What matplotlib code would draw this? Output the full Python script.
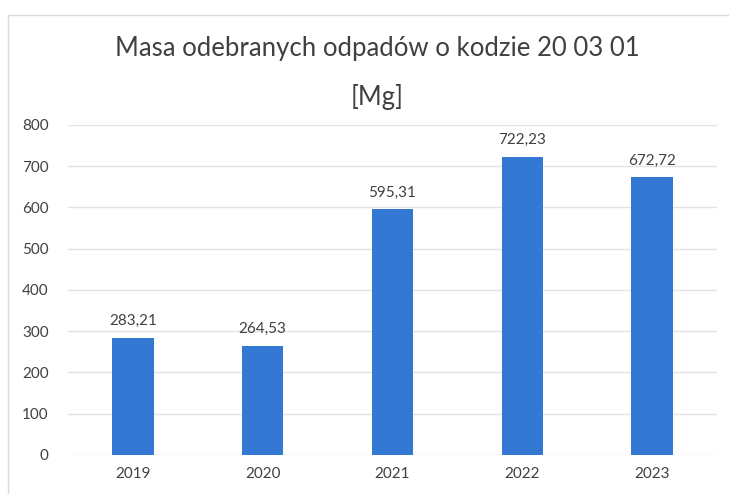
import matplotlib.pyplot as plt
from matplotlib.patches import Rectangle

years = ['2019', '2020', '2021', '2022', '2023']
values = [283.21, 264.53, 595.31, 722.23, 672.72]
labels = ['283,21', '264,53', '595,31', '722,23', '672,72']

plt.rcParams['font.family'] = ['Lato', 'DejaVu Sans']

fig = plt.figure(figsize=(7.29, 4.94), dpi=100)
ax = fig.add_axes([0.0933, 0.079, 0.8902, 0.668])

# ramka wykresu jak w Excelu
fig.patches.append(Rectangle((0.011, -0.01), 1.0, 0.98, transform=fig.transFigure,
                             fill=False, edgecolor='#d9d9d9', linewidth=1))

x = range(len(years))
ax.bar(x, values, width=0.32, color='#3378d3', zorder=3)
for xi, v, lab in zip(x, values, labels):
    ax.text(xi, v + 24, lab, ha='center', va='bottom', fontsize=11, color='#404040')

ax.set_xlim(-0.5, 4.5)
ax.set_ylim(0, 800)
ax.set_yticks(range(0, 801, 100))
ax.set_xticks(list(x))
ax.set_xticklabels(years)
ax.grid(axis='y', color='#e3e3e3', linewidth=1, zorder=0)
for s in ax.spines.values():
    s.set_visible(False)
ax.tick_params(length=0, labelsize=11, labelcolor='#404040')
ax.tick_params(axis='y', pad=14)
ax.tick_params(axis='x', pad=9)

fig.text(0.518, 0.902, 'Masa odebranych odpadów o kodzie 20 03 01', ha='center',
         va='center', fontsize=18.5, color='#404040')
fig.text(0.518, 0.803, '[Mg]', ha='center', va='center', fontsize=18.5, color='#404040')

fig.savefig('out.png', dpi=100)
